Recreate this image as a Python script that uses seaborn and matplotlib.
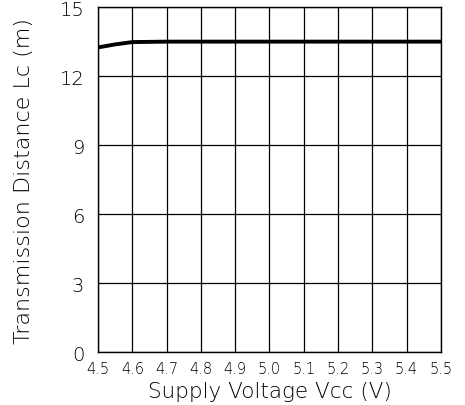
import matplotlib
matplotlib.use("Agg")
import matplotlib.pyplot as plt
import pandas as pd
import seaborn as sns

# Curve values
voltage = [4.5, 4.55, 4.6, 4.7, 4.8, 4.9, 5.0, 5.1, 5.2, 5.3, 5.4, 5.5]
distance = [13.25, 13.38, 13.48, 13.5, 13.5, 13.5, 13.5, 13.5, 13.5, 13.5, 13.5, 13.5]

x_ticks = [4.5, 4.6, 4.7, 4.8, 4.9, 5.0, 5.1, 5.2, 5.3, 5.4, 5.5]
y_ticks = [0, 3, 6, 9, 12, 15]


def main():
    df = pd.DataFrame({"vcc": voltage, "lc": distance})

    sns.set_theme(style="white")
    plt.rcParams["font.family"] = ["DejaVu Sans"]

    fig = plt.figure(figsize=(4.65, 4.06), dpi=100)
    ax = fig.add_axes([0.211, 0.130, 0.737, 0.850])

    sns.lineplot(data=df, x="vcc", y="lc", color="black", linewidth=2.8, ax=ax)

    ax.set_xlim(4.5, 5.5)
    ax.set_ylim(0, 15)
    ax.set_xticks(x_ticks)
    ax.set_xticklabels([f"{v:.1f}" for v in x_ticks], fontweight="light")
    ax.set_yticks(y_ticks)
    ax.set_yticklabels([str(v) for v in y_ticks], fontweight="light")

    ax.grid(True, color="black", linewidth=0.9)
    for spine in ax.spines.values():
        spine.set_color("black")
        spine.set_linewidth(1.0)
    ax.tick_params(axis="both", length=0, colors="black")
    ax.tick_params(axis="x", pad=6, labelsize=10.5)
    ax.tick_params(axis="y", pad=10, labelsize=14)

    ax.set_xlabel("Supply Voltage Vcc (V)", fontsize=15.5, labelpad=4,
                  color="black", fontweight="light")
    ax.set_ylabel("Transmission Distance Lc (m)", fontsize=16, labelpad=18,
                  color="black", fontweight="light")

    fig.savefig("out.png", dpi=100)


if __name__ == "__main__":
    main()
